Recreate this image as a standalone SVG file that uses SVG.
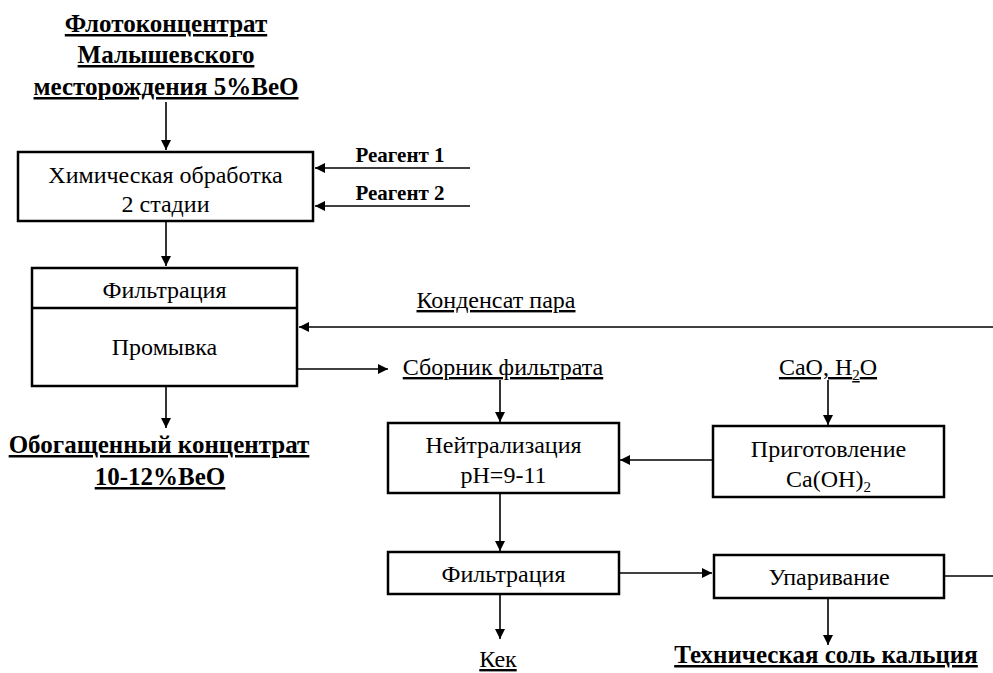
<svg xmlns="http://www.w3.org/2000/svg" width="993" height="673" viewBox="0 0 993 673" font-family="'Liberation Serif', 'Times New Roman', serif">
<defs>
<marker id="ah" markerWidth="10" markerHeight="10" refX="10" refY="5" orient="auto" markerUnits="userSpaceOnUse">
<path d="M0,0 L10,5 L0,10 z" fill="#000"/>
</marker>
<style>
text{font-family:'Liberation Serif','Times New Roman',serif;fill:#000;}
.t{font-size:24px;text-anchor:middle;}
.b{font-size:25px;font-weight:bold;text-anchor:middle;text-decoration:underline;}
.r{font-size:21px;font-weight:bold;text-anchor:middle;}
.u{font-size:24px;text-anchor:middle;text-decoration:underline;}
.box{fill:#fff;stroke:#000;stroke-width:2.5;}
.c{fill:none;stroke:#000;stroke-width:1.6;}
.a{marker-end:url(#ah);}
</style>
</defs>
<rect width="993" height="673" fill="#fff"/>
<g id="connectors">
<line class="c a" x1="166" y1="102" x2="166" y2="150"/>
<line class="c a" x1="470" y1="168" x2="315" y2="168"/>
<line class="c a" x1="470" y1="206" x2="315" y2="206"/>
<line class="c a" x1="166" y1="222" x2="166" y2="266"/>
<line class="c a" x1="993" y1="327" x2="299" y2="327"/>
<line class="c a" x1="297" y1="369" x2="388" y2="369"/>
<line class="c a" x1="166" y1="387" x2="166" y2="428"/>
<line class="c a" x1="500" y1="380" x2="500" y2="422"/>
<line class="c a" x1="828" y1="380" x2="828" y2="425"/>
<line class="c a" x1="712" y1="460" x2="620" y2="460"/>
<line class="c a" x1="500" y1="494" x2="500" y2="551"/>
<line class="c a" x1="619" y1="573" x2="712" y2="573"/>
<line class="c" x1="944" y1="576" x2="993" y2="576"/>
<line class="c a" x1="500" y1="594" x2="500" y2="639"/>
<line class="c a" x1="828" y1="598" x2="828" y2="645"/>
</g>
<g id="source">
<text class="b" x="166" y="32">Флотоконцентрат</text>
<text class="b" x="166" y="63">Малышевского</text>
<text class="b" x="166" y="95">месторождения 5%BeO</text>
</g>
<g id="chem">
<rect class="box" x="18" y="152" width="295" height="69"/>
<text class="t" x="165.5" y="183">Химическая обработка</text>
<text class="t" x="165.5" y="212">2 стадии</text>
</g>
<g id="reagent1"><text class="r" x="400" y="162">Реагент 1</text></g>
<g id="reagent2"><text class="r" x="400" y="200">Реагент 2</text></g>
<g id="filtration1">
<rect class="box" x="32" y="268" width="265" height="118"/>
<line x1="32" y1="308" x2="297" y2="308" stroke="#000" stroke-width="2.5"/>
<text class="t" x="164.5" y="298">Фильтрация</text>
<text class="t" x="164.5" y="355">Промывка</text>
</g>
<g id="condensate"><text class="u" x="496" y="308">Конденсат пара</text></g>
<g id="collector"><text class="u" x="503" y="375">Сборник фильтрата</text></g>
<g id="enriched">
<text class="b" x="159" y="453">Обогащенный концентрат</text>
<text class="b" x="160" y="485">10-12%BeO</text>
</g>
<g id="neutralization">
<rect class="box" x="388" y="423" width="231" height="70"/>
<text class="t" x="503.5" y="453">Нейтрализация</text>
<text class="t" x="503.5" y="483">pH=9-11</text>
</g>
<g id="cao"><text class="u" x="828" y="375">CaO, H<tspan font-size="15" dy="5">2</tspan><tspan dy="-5">O</tspan></text></g>
<g id="preparation">
<rect class="box" x="713" y="426" width="231" height="71"/>
<text class="t" x="828.5" y="457">Приготовление</text>
<text class="t" x="828.5" y="487">Ca(OH)<tspan font-size="15" dy="5">2</tspan></text>
</g>
<g id="filtration2">
<rect class="box" x="388" y="552" width="231" height="42"/>
<text class="t" x="503.5" y="582">Фильтрация</text>
</g>
<g id="evaporation">
<rect class="box" x="714" y="555" width="230" height="43"/>
<text class="t" x="829" y="585">Упаривание</text>
</g>
<g id="cake"><text class="u" x="498" y="667">Кек</text></g>
<g id="salt"><text class="b" x="826" y="663">Техническая соль кальция</text></g>
</svg>
